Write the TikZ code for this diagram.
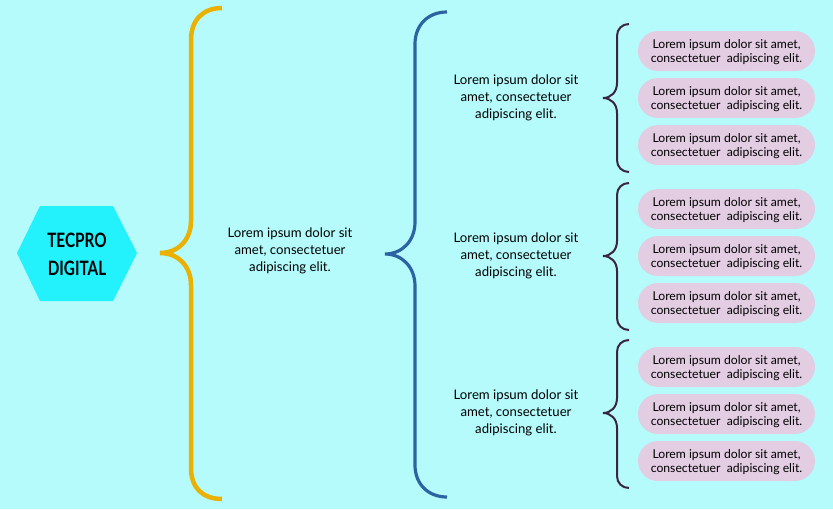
\documentclass[tikz,border=0pt]{standalone}
\usepackage{fontspec}
\setmainfont{Lato}
\usepackage{graphicx}
\definecolor{bgc}{HTML}{B5FBFC}
\definecolor{hexc}{HTML}{23F1FC}
\definecolor{yelc}{HTML}{EAB102}
\definecolor{bluc}{HTML}{2C64A2}
\definecolor{drkc}{HTML}{3A2440}
\definecolor{pilc}{HTML}{E3CDE3}
\tikzset{
  lvltext/.style={align=center, text=black, font=\fontsize{13.2}{17}\selectfont, inner sep=0pt},
  pill/.style={fill=pilc, rounded corners=20pt, minimum width=177pt, minimum height=40pt,
    align=center, text=black, font=\fontsize{12.2}{14}\selectfont, inner sep=0pt},
  yelbrace/.style={draw=yelc, line width=4.5pt},
  blubrace/.style={draw=bluc, line width=3.2pt},
  drkbrace/.style={draw=drkc, line width=2pt},
}
\begin{document}
\begin{tikzpicture}[x=1pt,y=-1pt]
\fill[bgc] (0,0) rectangle (833,509);
\useasboundingbox (0,0) rectangle (833,509);
% hexagon
\fill[hexc] (17,253) -- (40,206) -- (113,206) -- (137,253) -- (113,301) -- (40,301) -- cycle;
\node[align=center, font=\bfseries\fontsize{18}{28}\selectfont, inner sep=0pt] (root) at (77,254)
  {\scalebox{0.85}[1.1]{TECPRO}\\\scalebox{0.85}[1.1]{DIGITAL}};
% yellow brace
\coordinate (ytip) at (160,253);
\path[yelbrace] (222,8) .. controls (203,8) and (191,20) .. (191,40) -- (191,221)
  .. controls (191,240) and (178,253) .. (ytip)
  .. controls (178,253) and (191,266) .. (191,285) -- (191,468)
  .. controls (191,488) and (203,499) .. (222,499);
\node[lvltext] (mid) at (290,251) {Lorem ipsum dolor sit\\amet, consectetuer\\adipiscing elit.};
% blue brace
\coordinate (btip) at (385,254);
\path[blubrace] (447,12) .. controls (428,12) and (415,25) .. (415,44) -- (415,222)
  .. controls (415,241) and (402,254) .. (btip)
  .. controls (402,254) and (415,267) .. (415,286) -- (415,465)
  .. controls (415,484) and (428,497) .. (447,497);
% level 2
\foreach \i/\y in {a/98,b/256,c/413}{
  \node[lvltext] (t\i) at (516,\y) {Lorem ipsum dolor sit\\amet, consectetuer\\adipiscing elit.};
}
% dark braces
\foreach \yt/\ym/\yb in {24/98/172, 183/256/330, 340/413/488}{
  \path[drkbrace] (629,\yt) .. controls (622,\yt) and (617,\yt+5) .. (617,\yt+12) -- (617,\ym-15)
    .. controls (617,\ym-6) and (611,\ym) .. (603,\ym)
    .. controls (611,\ym) and (617,\ym+6) .. (617,\ym+15) -- (617,\yb-12)
    .. controls (617,\yb-5) and (622,\yb) .. (629,\yb);
}
% pills
\foreach \n/\y in {1/51,2/98,3/145,4/209,5/256,6/303,7/367,8/414,9/461}{
  \node[pill, text depth=0pt] (p\n) at (726.5,\y) {Lorem ipsum dolor sit amet,\\consectetuer\ \ adipiscing elit.};
}
\end{tikzpicture}
\end{document}
